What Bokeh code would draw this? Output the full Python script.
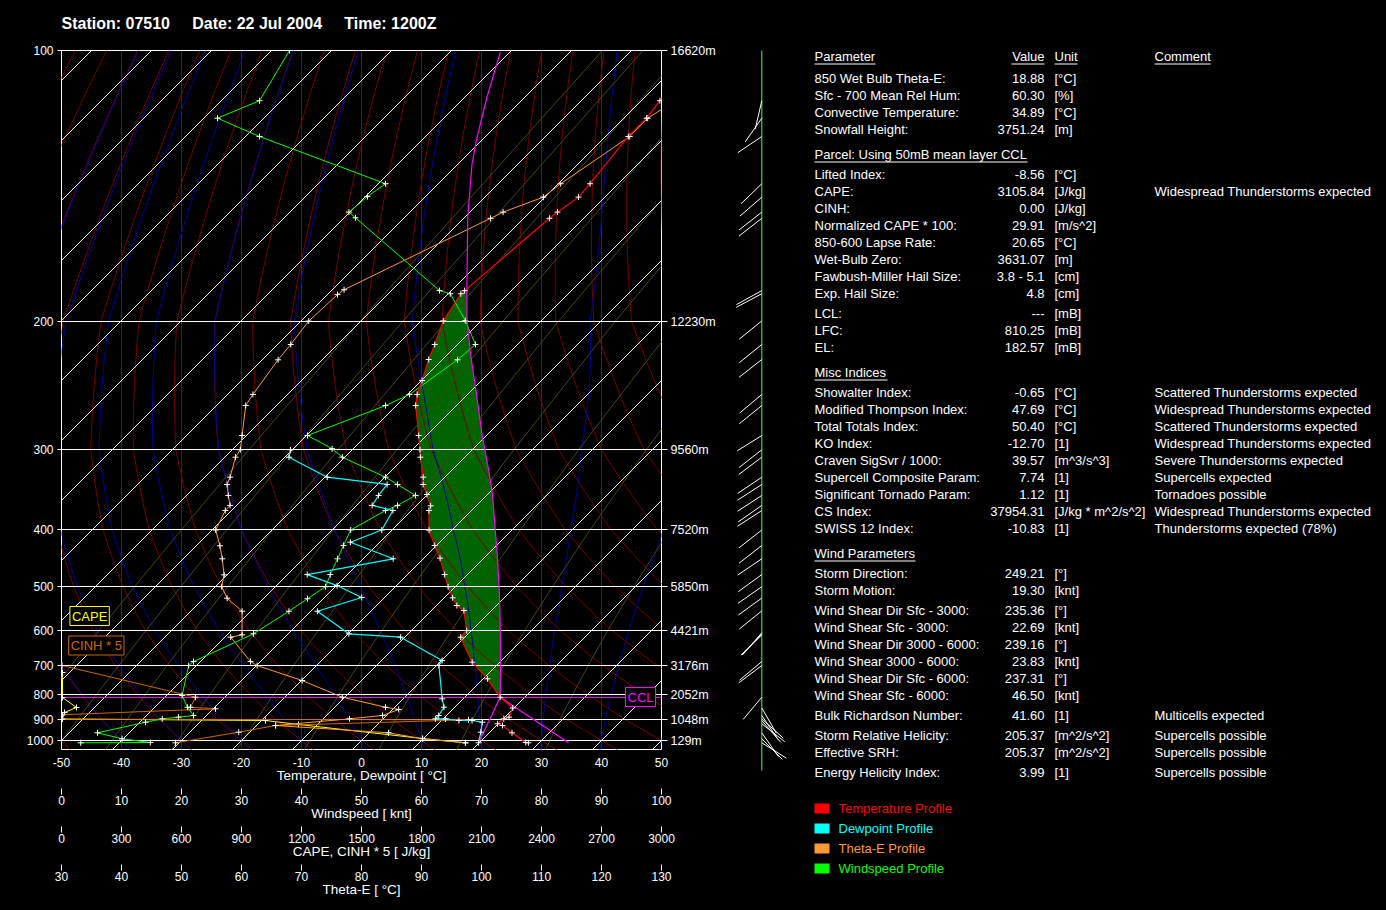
import numpy as np
from bokeh.plotting import figure
from bokeh.models import Range1d, LinearAxis, FixedTicker, Label
from bokeh.layouts import row
from bokeh.embed import file_html
from bokeh.resources import INLINE
from bokeh.core.properties import value

FONT = "Liberation Sans"
WHITE = "#ffffff"

# ---------------- header ----------------
station = "07510"
date = "22 Jul 2004"
time_utc = "1200Z"

# ---------------- axes / ticks ----------------
pressure_ticks = [100, 200, 300, 400, 500, 600, 700, 800, 900, 1000]
pressure_labels = ["100", "200", "300", "400", "500", "600", "700", "800", "900", "1000"]
height_labels = ["16620m", "12230m", "9560m", "7520m", "5850m", "4421m", "3176m", "2052m", "1048m", "129m"]
temp_ticks = [-50, -40, -30, -20, -10, 0, 10, 20, 30, 40, 50]
temp_tick_labels = ["-50", "-40", "-30", "-20", "-10", "0", "10", "20", "30", "40", "50"]
wind_ticks = [0, 10, 20, 30, 40, 50, 60, 70, 80, 90, 100]
cape_ticks = [0, 300, 600, 900, 1200, 1500, 1800, 2100, 2400, 2700, 3000]
thetae_ticks = [30, 40, 50, 60, 70, 80, 90, 100, 110, 120, 130]

# ---------------- sounding profiles ----------------
temp_p = [100.0, 113.7, 118.9, 124.6, 140.6, 145.5, 151.2, 153.6, 184.8, 186.3, 199.7, 215.1, 225.6,
          241.1, 252.0, 261.0, 287.0, 300.3, 308.4, 331.4, 340.2, 352.7, 367.3, 373.6, 401.0, 425.8,
          447.5, 477.2, 500.4, 524.0, 541.0, 552.3, 600.0, 617.9, 689.9, 744.2, 810.2, 852.6, 890.2,
          897.0, 919.6, 927.6, 962.1, 1010.0, 1011.6]
temp_c = [-59.8, -56.9, -56.2, -56.2, -54.7, -54.4, -55.4, -55.7, -57.8, -57.9, -56.3, -53.8, -52.3,
          -49.9, -48.4, -46.8, -41.3, -38.7, -37.4, -33.6, -32.4, -30.1, -27.6, -27.1, -23.8, -20.3,
          -17.3, -13.8, -11.2, -8.6, -6.6, -4.6, -0.8, -0.7, 5.4, 10.7, 15.9, 19.8, 20.7,
          20.1, 19.9, 21.0, 23.8, 27.7, 28.2]

dew_p = [300.3, 308.4, 331.4, 340.2, 353.9, 366.8, 373.6, 400.8, 420.4, 448.6, 477.2, 498.2, 523.3,
         553.9, 608.8, 617.9, 684.7, 700.0, 816.4, 849.4, 883.2, 897.0, 897.5, 904.5, 904.6, 912.3,
         959.2, 1011.6]
dew_c = [-60.3, -59.3, -49.6, -38.4, -38.0, -37.4, -33.1, -31.7, -34.9, -25.0, -36.7, -29.9, -23.8,
         -28.9, -19.9, -10.7, 0.1, 0.4, 6.5, 8.2, 8.7, 8.7, 10.4, 12.9, 15.1, 17.1,
         18.5, 19.9]

wind_p = [100.0, 113.7, 118.9, 124.6, 140.6, 145.3, 151.2, 153.4, 184.8, 186.3, 199.5, 215.1, 225.8,
          252.0, 261.0, 287.0, 299.2, 308.4, 331.4, 340.2, 353.9, 366.8, 373.6, 400.8, 425.8, 448.6,
          477.2, 500.4, 526.1, 553.9, 608.8, 687.9, 700.0, 803.8, 849.4, 883.2, 890.2, 897.0, 912.3,
          962.1, 991.5, 1010.0, 1011.6]
wind_kt = [38.0, 33.0, 26.0, 33.0, 54.0, 51.0, 47.9, 49.0, 63.0, 64.8, 67.3, 69.0, 66.0,
           58.0, 54.0, 41.0, 45.1, 46.8, 54.0, 56.0, 59.0, 56.0, 54.0, 48.2, 47.0, 46.0,
           44.8, 44.0, 41.0, 37.9, 32.0, 22.0, 21.2, 20.1, 21.0, 22.0, 19.5, 16.8, 14.0,
           6.0, 10.1, 14.8, 3.2]

thetae_p = [100.0, 113.7, 118.9, 124.6, 140.6, 145.5, 151.2, 153.6, 184.4, 186.7, 199.8, 215.1, 225.8,
            252.0, 261.0, 287.0, 300.3, 308.4, 331.4, 340.2, 353.9, 366.8, 373.6, 400.8, 426.3, 448.6,
            477.7, 500.4, 524.9, 553.9, 611.5, 617.9, 687.9, 700.0, 750.1, 810.2, 849.4, 858.6, 883.2,
            897.0, 927.6, 962.1, 991.5, 1011.6]
thetae_c = [145.0, 132.3, 127.7, 124.7, 113.2, 110.3, 103.6, 101.5, 77.1, 76.0, 71.2, 68.2, 66.1,
            61.9, 60.7, 60.1, 59.8, 59.0, 58.1, 57.6, 57.8, 58.1, 57.3, 55.7, 56.4, 56.8,
            57.1, 56.7, 57.6, 60.1, 60.1, 58.2, 61.5, 62.6, 70.1, 76.8, 84.0, 86.2, 83.5,
            78.0, 65.7, 84.5, 90.2, 97.3]

cape_p = [723.0, 811.4, 850.5, 870.8, 897.9, 904.5, 922.9, 990.1, 1011.6]
cape_jkg = [5, 5, 75, 15, 5, 1020, 1185, 1805, 2020]

cinh_p = [700.0, 810.2, 849.4, 855.7, 880.0, 898.7, 901.3, 927.6, 959.2, 1011.6]
cinh_x5 = [3, 670, 645, 770, 5, 3, 2035, 1070, 886, 570]

parcel_p = [1011.6, 810.2, 700.0, 600.0, 552.3, 500.4, 439.9, 406.8, 351.8, 323.5, 288.5, 246.2,
            221.5, 199.5, 186.3, 153.2, 133.6, 124.8, 112.7, 100.4]
parcel_c = [19.9, 15.9, 10.7, 4.8, 1.4, -2.7, -8.5, -12.1, -19.3, -23.8, -30.4, -39.9,
            -46.3, -52.4, -56.9, -69.5, -77.7, -81.3, -86.3, -91.6]

ccl_p = 810.25
el_p = 182.57
sfc_p = 1011.6
conv_temp = 34.89

barb_p = [113.7, 118.9, 124.6, 140.6, 145.5, 151.2, 153.6, 184.8, 186.3, 199.7, 215.1, 225.6, 252.0,
          261.0, 287.0, 300.3, 308.4, 331.4, 340.2, 353.9, 366.8, 373.6, 400.8, 425.8, 448.6, 477.2,
          500.4, 524.5, 553.1, 606.0, 608.8, 612.0, 687.9, 700.0, 810.2, 852.6, 883.2, 897.0, 904.5,
          919.6, 962.1, 991.5, 1011.6]
barb_dir = [193, 215, 236, 226, 229, 232, 232, 241, 242, 231, 231, 232, 230,
            231, 238, 232, 233, 236, 237, 237, 235, 237, 232, 232, 236, 234,
            235, 234, 231, 221, 223, 226, 230, 233, 220, 150, 146, 132, 139,
            128, 145, 135, 122]

# ---------------- table ----------------
tbl_params = ["850 Wet Bulb Theta-E:", "Sfc - 700 Mean Rel Hum:", "Convective Temperature:", "Snowfall Height:",
              "Lifted Index:", "CAPE:", "CINH:", "Normalized CAPE * 100:", "850-600 Lapse Rate:", "Wet-Bulb Zero:",
              "Fawbush-Miller Hail Size:", "Exp. Hail Size:", "LCL:", "LFC:", "EL:",
              "Showalter Index:", "Modified Thompson Index:", "Total Totals Index:", "KO Index:",
              "Craven SigSvr / 1000:", "Supercell Composite Param:", "Significant Tornado Param:", "CS Index:",
              "SWISS 12 Index:",
              "Storm Direction:", "Storm Motion:", "Wind Shear Dir Sfc - 3000:", "Wind Shear Sfc - 3000:",
              "Wind Shear Dir 3000 - 6000:", "Wind Shear 3000 - 6000:", "Wind Shear Dir Sfc - 6000:",
              "Wind Shear Sfc - 6000:", "Bulk Richardson Number:", "Storm Relative Helicity:", "Effective SRH:",
              "Energy Helicity Index:"]
tbl_values = ["18.88", "60.30", "34.89", "3751.24",
              "-8.56", "3105.84", "0.00", "29.91", "20.65", "3631.07", "3.8 - 5.1", "4.8", "---", "810.25", "182.57",
              "-0.65", "47.69", "50.40", "-12.70", "39.57", "7.74", "1.12", "37954.31", "-10.83",
              "249.21", "19.30", "235.36", "22.69", "239.16", "23.83", "237.31", "46.50", "41.60", "205.37",
              "205.37", "3.99"]
tbl_units = ["[°C]", "[%]", "[°C]", "[m]",
             "[°C]", "[J/kg]", "[J/kg]", "[m/s^2]", "[°C]", "[m]", "[cm]", "[cm]", "[mB]", "[mB]", "[mB]",
             "[°C]", "[°C]", "[°C]", "[1]", "[m^3/s^3]", "[1]", "[1]", "[J/kg * m^2/s^2]", "[1]",
             "[°]", "[knt]", "[°]", "[knt]", "[°]", "[knt]", "[°]", "[knt]", "[1]", "[m^2/s^2]", "[m^2/s^2]", "[1]"]
tbl_comments = ["", "", "", "",
                "", "Widespread Thunderstorms expected", "", "", "", "", "", "", "", "", "",
                "Scattered Thunderstorms expected", "Widespread Thunderstorms expected",
                "Scattered Thunderstorms expected", "Widespread Thunderstorms expected",
                "Severe Thunderstorms expected", "Supercells expected", "Tornadoes possible",
                "Widespread Thunderstorms expected", "Thunderstorms expected (78%)",
                "", "", "", "", "", "", "", "", "Multicells expected", "Supercells possible", "Supercells possible",
                "Supercells possible"]
tbl_headers = ["Parameter", "Value", "Unit", "Comment"]
tbl_sections = ["Parcel: Using 50mB mean layer CCL", "Misc Indices", "Wind Parameters"]
legend_names = ["Temperature Profile", "Dewpoint Profile", "Theta-E Profile", "Windspeed Profile"]

# ---------------- layout (page pixel positions) ----------------
row_y = [78, 95, 112, 129,
         174, 191, 208, 225, 242, 259, 276, 293, 313, 330, 347,
         392, 409, 426, 443, 460, 477, 494, 511, 528,
         573, 590, 610, 627, 644, 661, 678, 695, 715, 735, 752, 772]
section_y = [154, 372, 553]
section_ul_x1 = [1027, 887, 915]
header_y = 56
header_x = [814, 1044, 1054, 1154]
header_align = ["left", "right", "left", "left"]
header_ul = [(814, 875), (1011, 1044), (1054, 1077), (1154, 1210)]
legend_y = [808, 828, 848, 868]

C_TEMP, C_DEW, C_THE, C_WIND = "#ff0000", "#00ffff", "#ff9933", "#00ff00"
C_CAPE, C_CINH, C_PARCEL = "#ffff00", "#cc6600", "#ff00ff"

# ---------------- diagram vertical scale ----------------
scale_offsets = [690, 419, 291, 211, 154, 110, 75, 46, 21, 0]


def ypos(p):
    p = np.asarray(p, dtype=float)
    lp = np.log(p)
    lx = np.log(np.array(pressure_ticks, float))
    yy = np.array(scale_offsets, float)
    y = np.interp(lp, lx, yy)
    top_rate = (yy[0] - yy[1]) / (lx[1] - lx[0])
    bot_rate = (yy[-2] - yy[-1]) / (lx[-1] - lx[-2])
    y = np.where(lp < lx[0], yy[0] + top_rate * (lx[0] - lp), y)
    y = np.where(lp > lx[-1], yy[-1] - bot_rate * (lp - lx[-1]), y)
    return y


def skx(t, p):
    return np.asarray(t, float) + ypos(p) / 6.0


def t_at(ps, ts, target):
    ps = np.asarray(ps, float)
    ts = np.asarray(ts, float)
    o = np.argsort(ps)
    return float(np.interp(np.log(target), np.log(ps[o]), ts[o]))


# ---------------- thermodynamic background lines ----------------
RD, CP, LV, EPS = 287.04, 1005.7, 2.501e6, 0.622


def esat(tc):
    return 6.112 * np.exp(17.67 * tc / (tc + 243.5))


def dtdlnp(T, p):
    es = esat(T - 273.15)
    rs = EPS * es / (p - es)
    return (RD * T + LV * rs) / (CP + LV * LV * rs * EPS / (RD * T * T))


def moist_line(tw):
    def integ(p_end, n):
        lps = np.linspace(np.log(1000.0), np.log(p_end), n)
        T = tw + 273.15
        out = [T]
        for i in range(1, n):
            h = lps[i] - lps[i - 1]
            k1 = dtdlnp(T, np.exp(lps[i - 1]))
            k2 = dtdlnp(T + h * k1, np.exp(lps[i]))
            T = T + h * (k1 + k2) / 2
            out.append(T)
        return np.exp(lps), np.array(out) - 273.15
    pu, tu = integ(95.0, 400)
    pd, td = integ(1070.0, 20)
    return np.concatenate([pd[::-1], pu[1:]]), np.concatenate([td[::-1], tu[1:]])


pgrid = np.exp(np.linspace(np.log(1070.0), np.log(95.0), 300))

dry_xs, dry_ys = [], []
for th in range(-70, 200, 10):
    t = (th + 273.15) * (pgrid / 1000.0) ** (RD / CP) - 273.15
    dry_xs.append(list(skx(t, pgrid)))
    dry_ys.append(list(ypos(pgrid)))

moist_xs, moist_ys = [], []
for tw in range(-40, 60, 10):
    mp, mt = moist_line(tw)
    moist_xs.append(list(skx(mt, mp)))
    moist_ys.append(list(ypos(mp)))

mix_xs, mix_ys = [], []
for w in [0.015, 0.04, 0.1, 0.3, 0.8, 2.0, 5.0, 12.0, 30.0]:
    rs = w / 1000.0
    es = rs * pgrid / (EPS + rs)
    a = np.log(es / 6.112)
    t = 243.5 * a / (17.67 - a)
    mix_xs.append(list(skx(t, pgrid)))
    mix_ys.append(list(ypos(pgrid)))

iso_x0, iso_x1, iso_y0, iso_y1 = [], [], [], []
for t0 in range(-170, 60, 10):
    iso_x0.append(t0 - 9 / 6.0)
    iso_y0.append(-9.0)
    iso_x1.append(t0 + 690 / 6.0)
    iso_y1.append(690.0)

# ---------------- main figure ----------------
p = figure(frame_width=600, frame_height=699, x_range=Range1d(-50, 50), y_range=Range1d(-9, 690),
           output_backend="svg", toolbar_location=None, background_fill_color="black",
           border_fill_color="black", outline_line_color=WHITE, outline_line_width=1,
           min_border_left=53, min_border_right=59, min_border_top=42, min_border_bottom=0)
p.extra_x_ranges = {"wind": Range1d(0, 100), "cape": Range1d(0, 3000), "thetae": Range1d(30, 130)}

nb = "\u00a0" * 5
p.title.text = "Station: " + station + nb + "Date: " + date + nb + "Time: " + time_utc + "\n\u00a0"
p.title.text_color = WHITE
p.title.text_font = FONT
p.title.text_font_size = "16px"
p.title.text_font_style = "bold"
p.title.text_line_height = 1.1
p.title.align = "left"
p.title.vertical_align = "bottom"
p.title.standoff = 0

yt = [float(v) for v in ypos(pressure_ticks)]

# grids
p.xgrid.ticker = FixedTicker(ticks=[-40, -30, -20, -10, 0, 10, 20, 30, 40])
p.xgrid.grid_line_color = "#0c420c"
p.ygrid.grid_line_color = None

# left axis
ya = p.yaxis[0]
ya.ticker = FixedTicker(ticks=yt)
ya.major_label_overrides = {t: s for t, s in zip(yt, pressure_labels)}
ya.axis_line_color = None
ya.major_tick_out = 4
ya.major_tick_in = 0
ya.major_tick_line_color = WHITE
ya.minor_tick_line_color = None
ya.major_label_standoff = 4
ya.major_label_text_color = WHITE
ya.major_label_text_font = FONT
ya.major_label_text_font_size = "12px"

# right axis (heights)
ra = LinearAxis(ticker=FixedTicker(ticks=yt), major_label_overrides={t: s for t, s in zip(yt, height_labels)})
ra.axis_line_color = None
ra.major_tick_out = 6
ra.major_tick_in = 0
ra.major_tick_line_color = WHITE
ra.minor_tick_line_color = None
ra.major_label_standoff = 3
ra.major_label_text_color = WHITE
ra.major_label_text_font = FONT
ra.major_label_text_font_size = "12.5px"
p.add_layout(ra, "right")


def style_bottom(ax, label, ticks, tick_labels=None, tick_len=0):
    ax.ticker = FixedTicker(ticks=ticks)
    if tick_labels is not None:
        ax.major_label_overrides = {t: s for t, s in zip(ticks, tick_labels)}
    ax.axis_label = label
    ax.axis_label_text_color = WHITE
    ax.axis_label_text_font = FONT
    ax.axis_label_text_font_size = "13.5px"
    ax.axis_label_text_font_style = "normal"
    ax.axis_label_standoff = -2
    ax.major_label_text_color = WHITE
    ax.major_label_text_font = FONT
    ax.major_label_text_font_size = "12px"
    ax.axis_line_color = None
    ax.minor_tick_line_color = None
    ax.major_tick_line_color = WHITE
    if tick_len:
        ax.major_tick_in = -3
        ax.major_tick_out = 9
        ax.major_label_standoff = 1
    else:
        ax.major_tick_in = 0
        ax.major_tick_out = 0
        ax.major_label_standoff = 8


style_bottom(p.xaxis[0], "Temperature, Dewpoint [ °C]", temp_ticks, temp_tick_labels)
for rng, lab, ticks in [("wind", "Windspeed [ knt]", wind_ticks),
                        ("cape", "CAPE, CINH * 5 [ J/kg]", cape_ticks),
                        ("thetae", "Theta-E [ °C]", thetae_ticks)]:
    ax = LinearAxis(x_range_name=rng)
    style_bottom(ax, lab, ticks, [str(t) for t in ticks], tick_len=5)
    p.add_layout(ax, "below")

# CAPE area (between parcel and environment, LFC..EL)
pp = np.array(parcel_p)
pt = np.array(parcel_c)
tp = np.array(temp_p)
tt = np.array(temp_c)
mpar = (pp < ccl_p) & (pp > el_p)
menv = (tp < ccl_p) & (tp > el_p)
fill_p = [ccl_p] + list(pp[mpar]) + [el_p] + list(tp[menv])
fill_t = [t_at(pp, pt, ccl_p)] + list(pt[mpar]) + [t_at(tp, tt, el_p)] + list(tt[menv])
p.patch(x=skx(fill_t, fill_p), y=ypos(fill_p), fill_color="#006400", line_color=None)

# background line families
p.multi_line(xs=dry_xs, ys=dry_ys, line_color="#7a0000", line_width=1)
p.multi_line(xs=moist_xs, ys=moist_ys, line_color="#0000a8", line_width=1)
p.multi_line(xs=mix_xs, ys=mix_ys, line_color="#4a4a16", line_width=1)
p.segment(x0=iso_x0, y0=iso_y0, x1=iso_x1, y1=iso_y1, line_color=WHITE, line_width=1)
p.hspan(y=yt, line_color=WHITE, line_width=1)

# CCL level
p.hspan(y=[float(ypos(ccl_p))], line_color=C_PARCEL, line_width=1)

# profiles
MK = dict(marker="cross", size=6, line_color=WHITE, line_width=1)
p.line(x=cape_jkg, y=ypos(cape_p), x_range_name="cape", line_color=C_CAPE, line_width=1)
p.scatter(x=cape_jkg, y=ypos(cape_p), x_range_name="cape", **MK)
p.line(x=cinh_x5, y=ypos(cinh_p), x_range_name="cape", line_color=C_CINH, line_width=1)
p.scatter(x=cinh_x5, y=ypos(cinh_p), x_range_name="cape", **MK)

p.line(x=thetae_c, y=ypos(thetae_p), x_range_name="thetae", line_color=C_THE, line_width=1)
p.scatter(x=thetae_c, y=ypos(thetae_p), x_range_name="thetae", **MK)
p.line(x=wind_kt, y=ypos(wind_p), x_range_name="wind", line_color=C_WIND, line_width=1)
p.scatter(x=wind_kt, y=ypos(wind_p), x_range_name="wind", **MK)

p.line(x=skx(parcel_c, parcel_p), y=ypos(parcel_p), line_color=C_PARCEL, line_width=1.2)
p.line(x=skx([parcel_c[1], conv_temp], [ccl_p, sfc_p]), y=ypos([ccl_p, sfc_p]), line_color=C_PARCEL, line_width=1.2)

p.line(x=skx(dew_c, dew_p), y=ypos(dew_p), line_color=C_DEW, line_width=1.2)
p.scatter(x=skx(dew_c, dew_p), y=ypos(dew_p), **MK)
p.line(x=skx(temp_c, temp_p), y=ypos(temp_p), line_color=C_TEMP, line_width=1.2)
p.scatter(x=skx(temp_c, temp_p), y=ypos(temp_p), **MK)

# boxed labels
for txt, col, xx, yy in [("CAPE", C_CAPE, -48.6, 124.5), ("CINH * 5", C_CINH, -48.8, 95.0),
                         ("CCL", C_PARCEL, 44.0, 43.5)]:
    p.add_layout(Label(x=xx, y=yy, text=txt, text_color=col, text_font=FONT, text_font_size="13px",
                       text_baseline="middle", text_align="left", border_line_color=col,
                       border_line_width=1, background_fill_color="black", padding=2))

# ---------------- side figure: wind barbs, table, legend ----------------
# its frame is aligned with the diagram frame (top at page y = 50)
s = figure(frame_width=658, frame_height=852, x_range=Range1d(720, 1378), y_range=Range1d(902, 50),
           output_backend="svg", toolbar_location=None, background_fill_color="black",
           border_fill_color="black", outline_line_color=None, min_border=0, min_border_top=42,
           x_axis_location=None, y_axis_location=None)
s.grid.visible = False

BX = 761.3
s.segment(x0=[BX], y0=[30], x1=[BX], y1=[770], line_color="#3cff3c", line_width=1)
by = 740.0 - ypos(barb_p)
bd = np.radians(np.array(barb_dir, float))
L = 29.0
s.segment(x0=np.full(len(by), BX), y0=by, x1=BX + L * np.sin(bd), y1=by - L * np.cos(bd),
          line_color=WHITE, line_width=1)

TF = dict(text_font=value(FONT), text_font_size="13px", text_baseline="middle")
s.text(x=[814] * len(tbl_params), y=row_y, text=tbl_params, text_color=WHITE, text_align="left", **TF)
s.text(x=[1044] * len(tbl_values), y=row_y, text=tbl_values, text_color=WHITE, text_align="right", **TF)
s.text(x=[1054] * len(tbl_units), y=row_y, text=tbl_units, text_color=WHITE, text_align="left", **TF)
s.text(x=[1154] * len(tbl_comments), y=row_y, text=tbl_comments, text_color=WHITE, text_align="left", **TF)
for hx, ht, ha in zip(header_x, tbl_headers, header_align):
    s.text(x=[hx], y=[header_y], text=[ht], text_color=WHITE, text_align=ha, **TF)
s.text(x=[814] * len(tbl_sections), y=section_y, text=tbl_sections, text_color=WHITE, text_align="left", **TF)
s.segment(x0=[a for a, b in header_ul] + [814] * 3, x1=[b for a, b in header_ul] + section_ul_x1,
          y0=[header_y + 7.5] * 4 + [v + 7.5 for v in section_y], y1=[header_y + 7.5] * 4 + [v + 7.5 for v in section_y],
          line_color=WHITE, line_width=1)

leg_cols = [C_TEMP, C_DEW, C_THE, C_WIND]
s.rect(x=[821.5] * 4, y=legend_y, width=15, height=10, fill_color=leg_cols, line_color=None)
s.text(x=[838] * 4, y=legend_y, text=legend_names, text_color=leg_cols, text_align="left", **TF)

layout = row(p, s)
html = file_html(layout, INLINE, title="Skew-T 07510")
html = html.replace("</head>", "<style>html,body{background:#000000;margin:0;}body{margin:8px;}</style></head>", 1)
open("out.html", "w").write(html)
